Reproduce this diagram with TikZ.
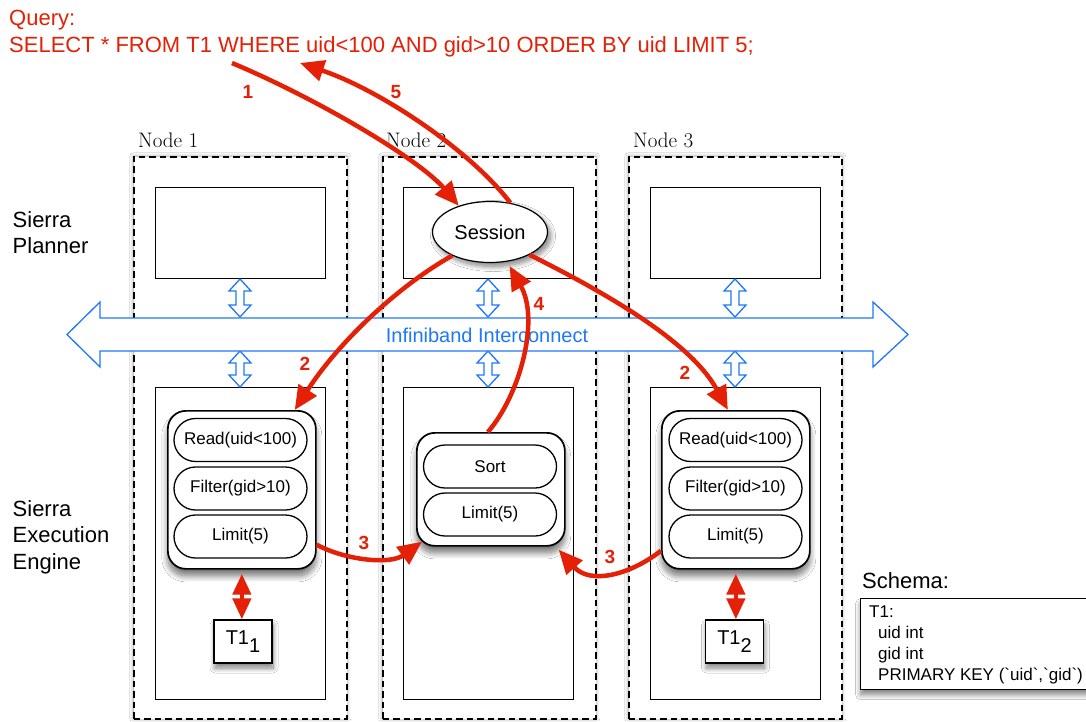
\documentclass[tikz,border=0pt]{standalone}
\usepackage{fontspec}
\newfontfamily\hv{Liberation Sans}
\newfontfamily\hvraw{Liberation Sans}[Ligatures=TeXOff]
\usetikzlibrary{arrows.meta,shapes.geometric,shapes.misc,calc,shadows.blur}
\definecolor{qred}{RGB}{228,32,6}
\definecolor{ibblue}{RGB}{30,120,250}
\begin{document}
\begin{tikzpicture}[x=1pt,y=-1pt,
  nodebox/.style={draw, dash pattern=on 6.5pt off 4pt, line width=1.5pt, fill=white, anchor=north west,
    minimum width=213pt, minimum height=562pt, inner sep=0pt,
    blur shadow={shadow xshift=0pt, shadow yshift=0pt, shadow blur radius=4pt, shadow blur steps=16, shadow opacity=40}},
  plainbox/.style={draw, line width=1.2pt, fill=white, anchor=north west, inner sep=0pt, minimum width=170pt},
  ibarrow/.style={draw=ibblue, line width=1.3pt, fill=white, line join=miter},
  grpbox/.style={draw, line width=1.7pt, fill=white, rounded corners=18pt, anchor=north west,
    minimum width=148pt, inner sep=0pt,
    blur shadow={shadow xshift=0pt, shadow yshift=-7pt, shadow blur radius=6pt, shadow blur steps=12, shadow opacity=55}},
  pill/.style={rounded rectangle, draw, line width=1.3pt, fill=white, minimum width=133pt,
    minimum height=43pt, inner sep=0pt, font=\hv\fontsize{17}{20}\selectfont},
  t1box/.style={draw, line width=1.3pt, fill=white, minimum width=58pt, minimum height=43pt, inner sep=0pt,
    font=\hv\fontsize{20}{22}\selectfont,
    blur shadow={shadow xshift=1pt, shadow yshift=-5pt, shadow blur radius=5pt, shadow blur steps=12, shadow opacity=50}},
  redarr/.style={draw=qred, line width=4.5pt, -{Triangle[length=24pt,width=21pt]}},
  reddbl/.style={draw=qred, line width=4.5pt, {Triangle[length=21pt,width=18pt]}-{Triangle[length=21pt,width=18pt]}},
  lbl/.style={text=qred, inner sep=0pt, font=\hv\bfseries\fontsize{19}{20}\selectfont},
  nodelbl/.style={anchor=base west, inner sep=0pt, font=\fontsize{21}{24}\selectfont},
  sidelbl/.style={anchor=north west, align=left, inner sep=0pt}
]
\clip (0,0) rectangle (1086,721);
\fill[white] (0,0) rectangle (1086,721);

% node columns
\node[nodebox] (n1) at (133,156) {};
\node[nodebox] (n2) at (382,156) {};
\node[nodebox] (n3) at (628,156) {};
\node[nodelbl] (l1) at (138,147) {Node 1};
\node[nodelbl] (l2) at (386,147) {Node 2};
\node[nodelbl] (l3) at (633,147) {Node 3};

% planner and execution boxes
\node[plainbox, minimum height=91pt] (p1) at (155,187) {};
\node[plainbox, minimum height=91pt] (p2) at (403,187) {};
\node[plainbox, minimum height=91pt] (p3) at (650,187) {};
\node[plainbox, minimum height=312pt] (e1) at (155,387) {};
\node[plainbox, minimum height=312pt] (e2) at (403,387) {};
\node[plainbox, minimum height=312pt] (e3) at (650,387) {};

% small blue double arrows
\foreach \cx in {240,488,735}{
  \foreach \t/\b in {279/317,351/387}{
    \draw[ibarrow] (\cx,\t) -- (\cx+11,\t+12) -- (\cx+4,\t+12) -- (\cx+4,\b-12) -- (\cx+11,\b-12)
      -- (\cx,\b) -- (\cx-11,\b-12) -- (\cx-4,\b-12) -- (\cx-4,\t+12) -- (\cx-11,\t+12) -- cycle;
  }
}

% interconnect
\draw[ibarrow] (67,334.5) -- (100,302) -- (100,318) -- (873,318) -- (873,302) -- (908,334.5)
  -- (873,367) -- (873,351) -- (100,351) -- (100,367) -- cycle;
\node[text=ibblue, font=\hv\fontsize{20}{22}\selectfont, inner sep=0pt] (ib) at (487,335) {Infiniband Interconnect};

% session
\node[ellipse, draw, line width=1.2pt, fill=white, minimum width=115pt, minimum height=61pt, inner sep=0pt,
  font=\hv\fontsize{20}{22}\selectfont,
  blur shadow={shadow xshift=3pt, shadow yshift=-4pt, shadow blur radius=5pt, shadow blur steps=12, shadow opacity=50}] (sess) at (490,232) {Session};

% operator groups
\node[grpbox, minimum height=158pt] (g1) at (167,410) {};
\node[grpbox, minimum height=113pt] (g2) at (416,432) {};
\node[grpbox, minimum height=158pt] (g3) at (661,410) {};

\node[pill] (r1) at (240.5,440) {Read(uid<100)};
\node[pill] (f1) at (240.5,488.5) {Filter(gid>10)};
\node[pill] (m1) at (240.5,536.5) {Limit(5)};
\node[pill] (s2) at (490,466.5) {Sort};
\node[pill] (m2) at (490,514.5) {Limit(5)};
\node[pill] (r3) at (735.5,440) {Read(uid<100)};
\node[pill] (f3) at (735.5,488.5) {Filter(gid>10)};
\node[pill] (m3) at (735.5,536.5) {Limit(5)};

% table partitions
\node[t1box] (t11) at (243,641.5) {T1\raisebox{-8pt}{1}};
\node[t1box] (t12) at (734.5,641.5) {T1\raisebox{-8pt}{2}};
\draw[reddbl] ([yshift=-4pt]g1.south) -- (g1.south |- t11.north);
\draw[reddbl] ([yshift=-4pt]g3.south) -- (g3.south |- t12.north);

% red flow arrows
\coordinate (qs) at (232,63);
\coordinate (qe) at (300,63);
\draw[redarr] (qs) .. controls (320,100) and (420,160) .. (sess.140);
\draw[redarr] (sess.55) .. controls (470,150) and (380,90) .. (qe);
\draw[redarr] (sess.212) .. controls (400,285) and (340,340) .. ($(g1.north east)+(-22,0)$);
\draw[redarr] (sess.-30) .. controls (600,290) and (690,340) .. ($(g3.north)+(-8,0)$);
\draw[redarr, shorten >=5pt] ($(g2.north)+(-3,0)$) .. controls (520,395) and (540,320) .. (sess.-60);
\draw[redarr] ($(g1.south east)+(0,-25)$) .. controls (345,560) and (390,565) .. ($(g2.south west)+(6,-5)$);
\draw[redarr] ($(g3.south west)+(0,-19)$) .. controls (630,575) and (590,585) .. ($(g2.south east)+(-7,3)$);

\node[lbl] (a1) at (248,92) {1};
\node[lbl] (a5) at (396,92) {5};
\node[lbl] (a2l) at (305,364) {2};
\node[lbl] (a2r) at (685,373) {2};
\node[lbl] (a4) at (539,304) {4};
\node[lbl] (a3l) at (364,543) {3};
\node[lbl] (a3r) at (610,557) {3};

% schema
\node[anchor=base west, inner sep=0pt, font=\hv\fontsize{22}{24}\selectfont] (schtitle) at (862,588) {Schema:};
\node[draw, line width=1.3pt, fill=white, anchor=north west, minimum width=240pt, minimum height=91pt, inner sep=0pt,
  blur shadow={shadow xshift=0pt, shadow yshift=-5pt, shadow blur radius=5pt, shadow blur steps=12, shadow opacity=50}] (sch) at (860,598) {};
\node[anchor=north west, align=left, inner sep=0pt, font=\hvraw\fontsize{17}{21}\selectfont] (schtxt) at (869,606)
  {T1:\\\hspace*{9pt}uid int\\\hspace*{9pt}gid int\\\hspace*{9pt}PRIMARY KEY (`uid`,`gid`)};

% query
\node[sidelbl, text=qred, font=\hv\fontsize{22}{26.7}\selectfont] (query) at (9,10)
  {Query:\\SELECT * FROM T1 WHERE uid<100 AND gid>10 ORDER BY uid LIMIT 5;};

% side labels
\node[sidelbl, font=\hv\fontsize{22}{26.7}\selectfont] (spl) at (12.5,211) {Sierra\\Planner};
\node[sidelbl, font=\hv\fontsize{22}{26.7}\selectfont] (sex) at (12.5,500) {Sierra\\Execution\\Engine};
\end{tikzpicture}
\end{document}
